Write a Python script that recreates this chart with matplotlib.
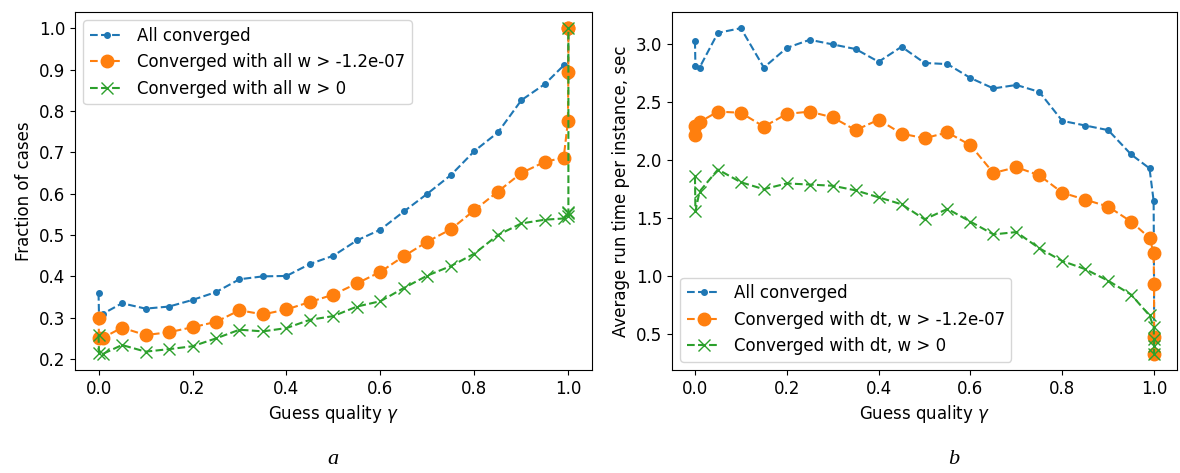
import numpy as np
import matplotlib
matplotlib.use("Agg")
import matplotlib.pyplot as plt

# guess quality values (dense near 0 and 1)
gamma = [0.0, 0.001, 0.01] + [round(0.05 * i, 2) for i in range(1, 20)] + \
        [0.99, 0.999, 0.9999, 0.99999, 1.0]

# panel a: fraction of cases
frac_all = [0.36, 0.305, 0.31,
            0.335, 0.322, 0.327, 0.343, 0.362, 0.393, 0.400, 0.401, 0.430, 0.450,
            0.487, 0.513, 0.557, 0.600, 0.645, 0.703, 0.748, 0.826, 0.865,
            0.91, 0.885, 0.99, 1.0, 1.0]
frac_tol = [0.30, 0.25, 0.252,
            0.276, 0.258, 0.265, 0.277, 0.290, 0.318, 0.308, 0.320, 0.338, 0.356,
            0.383, 0.411, 0.449, 0.484, 0.514, 0.560, 0.605, 0.650, 0.677,
            0.687, 0.775, 0.894, 1.0, 1.0]
frac_pos = [0.258, 0.215, 0.213,
            0.234, 0.218, 0.224, 0.231, 0.250, 0.271, 0.267, 0.275, 0.295, 0.304,
            0.327, 0.340, 0.372, 0.402, 0.425, 0.455, 0.500, 0.528, 0.537,
            0.540, 0.545, 0.552, 0.556, 1.0]

# panel b: average run time per instance
time_all = [3.03, 2.81, 2.80,
            3.10, 3.14, 2.80, 2.97, 3.04, 3.00, 2.96, 2.85, 2.98, 2.84,
            2.83, 2.71, 2.62, 2.65, 2.59, 2.34, 2.30, 2.26, 2.05,
            1.93, 1.65, 0.95, 0.47, 0.33]
time_tol = [2.22, 2.30, 2.33,
            2.42, 2.41, 2.29, 2.40, 2.42, 2.37, 2.26, 2.35, 2.23, 2.19,
            2.24, 2.13, 1.89, 1.94, 1.87, 1.72, 1.66, 1.60, 1.47,
            1.33, 1.20, 0.93, 0.47, 0.33]
time_pos = [1.86, 1.56, 1.73,
            1.92, 1.81, 1.75, 1.80, 1.79, 1.78, 1.74, 1.68, 1.62, 1.49,
            1.58, 1.47, 1.36, 1.38, 1.24, 1.13, 1.06, 0.96, 0.84,
            0.66, 0.56, 0.46, 0.40, 0.33]

plt.rcParams["font.size"] = 12

fig = plt.figure(figsize=(11.8, 4.73), dpi=100)
ax1 = fig.add_axes([0.0636, 0.2178, 0.438, 0.757])
ax2 = fig.add_axes([0.5695, 0.2178, 0.428, 0.757])

style_all = dict(ls="--", marker=".", ms=8, color="C0")
style_tol = dict(ls="--", marker="o", ms=9, color="C1")
style_pos = dict(ls="--", marker="x", ms=8, color="C2")

ax1.plot(gamma, frac_all, label="All converged", **style_all)
ax1.plot(gamma, frac_tol, label="Converged with all w > -1.2e-07", **style_tol)
ax1.plot(gamma, frac_pos, label="Converged with all w > 0", **style_pos)
ax1.set_xlabel("Guess quality $\\gamma$")
ax1.set_ylabel("Fraction of cases")
ax1.legend(loc="upper left")

ax2.plot(gamma, time_all, label="All converged", **style_all)
ax2.plot(gamma, time_tol, label="Converged with dt, w > -1.2e-07", **style_tol)
ax2.plot(gamma, time_pos, label="Converged with dt, w > 0", **style_pos)
ax2.set_xlabel("Guess quality $\\gamma$")
ax2.set_ylabel("Average run time per instance, sec")
ax2.legend(loc="lower left")

fig.text(0.282, 0.02, "a", family="Liberation Serif", style="italic",
         fontsize=16, ha="center")
fig.text(0.808, 0.02, "b", family="Liberation Serif", style="italic",
         fontsize=16, ha="center")

fig.savefig("out.png", dpi=100)
